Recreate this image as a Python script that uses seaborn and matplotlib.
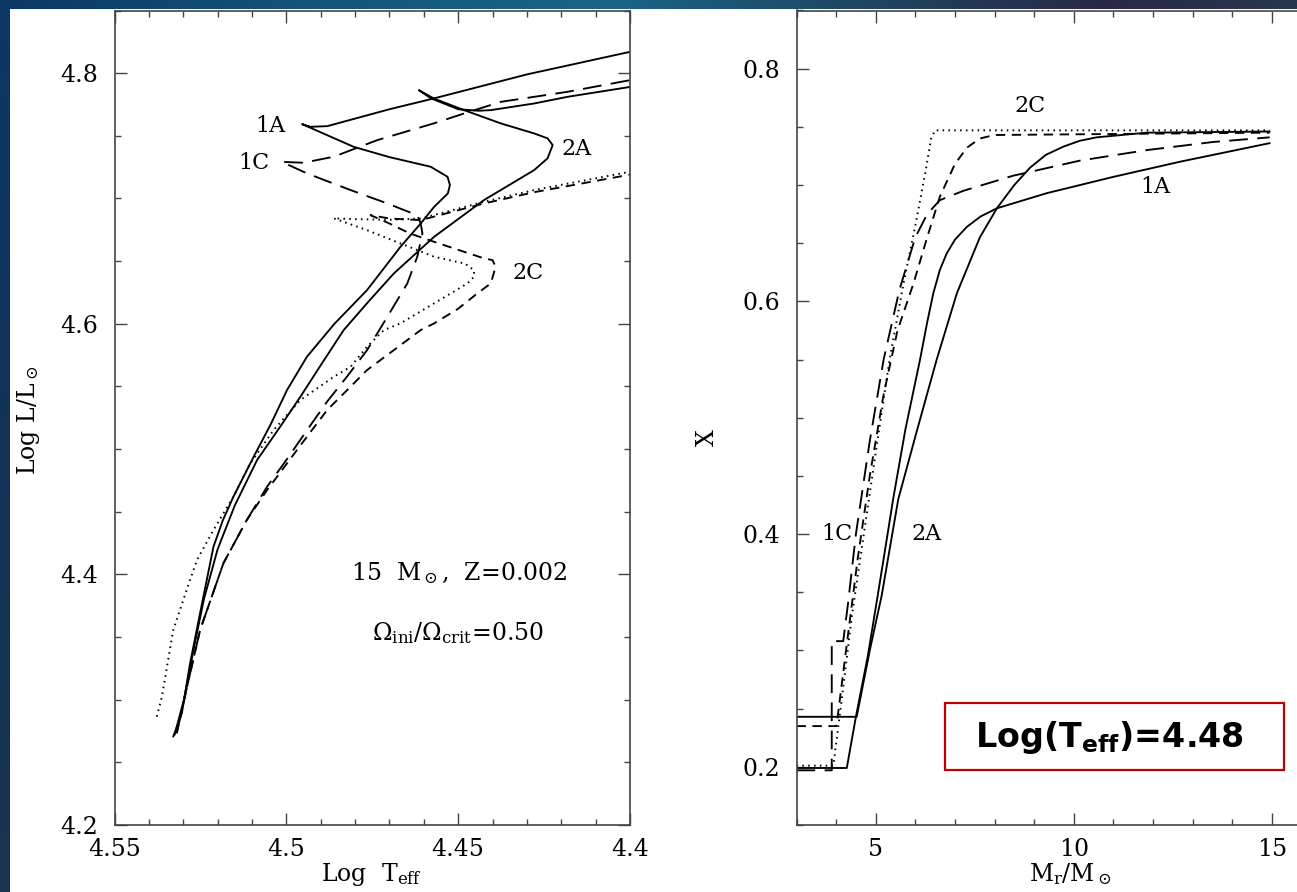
import numpy as np
import pandas as pd
import matplotlib
matplotlib.use("Agg")
import matplotlib.pyplot as plt
import seaborn as sns
from matplotlib.patches import Rectangle
from matplotlib.ticker import MultipleLocator, FixedLocator

# ---------------- data: left panel (HR diagram) ----------------
T_1A = [4.5329, 4.5304, 4.5280, 4.5251, 4.5212, 4.5185, 4.5154, 4.5095, 4.5045, 4.4998, 4.4940,
        4.4860, 4.4765, 4.4668, 4.4609, 4.4570, 4.4530, 4.4524, 4.4531, 4.4580, 4.4700, 4.4804,
        4.4954, 4.4930, 4.4881, 4.4700, 4.4571, 4.4300, 4.4000]
L_1A = [4.2705, 4.2892, 4.3291, 4.3690, 4.4221, 4.4430, 4.4620, 4.4939, 4.5200, 4.5471, 4.5737,
        4.6000, 4.6269, 4.6614, 4.6800, 4.6933, 4.7040, 4.7107, 4.7173, 4.7253, 4.7330, 4.7412,
        4.7593, 4.7572, 4.7577, 4.7712, 4.7798, 4.7990, 4.8170]

T_2A = [4.5325, 4.5298, 4.5270, 4.5240, 4.5200, 4.5150, 4.5085, 4.5020, 4.4959, 4.4895, 4.4833,
        4.4760, 4.4687, 4.4570, 4.4425, 4.4279, 4.4240, 4.4225, 4.4240, 4.4279, 4.4376, 4.4483,
        4.4571, 4.4614, 4.4580, 4.4500, 4.4440, 4.4405, 4.4279, 4.4182, 4.4000]
L_2A = [4.2720, 4.3000, 4.3400, 4.3800, 4.4200, 4.4550, 4.4913, 4.5170, 4.5418, 4.5690, 4.5950,
        4.6180, 4.6402, 4.6694, 4.6987, 4.7226, 4.7320, 4.7426, 4.7480, 4.7519, 4.7599, 4.7705,
        4.7798, 4.7864, 4.7800, 4.7712, 4.7700, 4.7705, 4.7758, 4.7811, 4.7890]

T_1C = [4.5319, 4.5285, 4.5251, 4.5183, 4.5115, 4.5056, 4.4998, 4.4940, 4.4881, 4.4823, 4.4765,
        4.4706, 4.4648, 4.4619, 4.4604, 4.4609, 4.4619, 4.4706, 4.4813, 4.4940, 4.5013, 4.4950,
        4.4862, 4.4736, 4.4571, 4.4483, 4.4376, 4.4182, 4.4000]
L_1C = [4.2732, 4.3150, 4.3556, 4.4089, 4.4434, 4.4700, 4.4920, 4.5150, 4.5380, 4.5580, 4.5790,
        4.6056, 4.6322, 4.6535, 4.6721, 4.6800, 4.6866, 4.6960, 4.7067, 4.7200, 4.7292, 4.7285,
        4.7333, 4.7465, 4.7599, 4.7678, 4.7771, 4.7851, 4.7944]

T_2C = [4.5319, 4.5285, 4.5251, 4.5183, 4.5115, 4.5056, 4.4998, 4.4940, 4.4881, 4.4823, 4.4765,
        4.4687, 4.4609, 4.4570, 4.4500, 4.4444, 4.4405, 4.4391, 4.4400, 4.4425, 4.4512, 4.4570,
        4.4640, 4.4700, 4.4755, 4.4700, 4.4609, 4.4425, 4.4279, 4.4000]
L_2C = [4.2732, 4.3150, 4.3556, 4.4089, 4.4434, 4.4673, 4.4886, 4.5099, 4.5312, 4.5471, 4.5631,
        4.5790, 4.5950, 4.6003, 4.6120, 4.6243, 4.6322, 4.6455, 4.6508, 4.6522, 4.6601, 4.6654,
        4.6720, 4.6800, 4.6867, 4.6840, 4.6827, 4.6960, 4.7050, 4.7190]

T_DOT = [4.5377, 4.5362, 4.5345, 4.5329, 4.5290, 4.5260, 4.5212, 4.5154, 4.5105, 4.5037, 4.4959,
         4.4862, 4.4813, 4.4765, 4.4716, 4.4668, 4.4570, 4.4473, 4.4454, 4.4454, 4.4480, 4.4570,
         4.4668, 4.4765, 4.4862, 4.4800, 4.4700, 4.4609, 4.4425, 4.4279, 4.4000]
L_DOT = [4.2865, 4.3024, 4.3300, 4.3556, 4.3876, 4.4115, 4.4354, 4.4620, 4.4886, 4.5152, 4.5392,
         4.5577, 4.5657, 4.5817, 4.5950, 4.6003, 4.6163, 4.6322, 4.6375, 4.6428, 4.6480, 4.6535,
         4.6641, 4.6747, 4.6841, 4.6835, 4.6830, 4.6840, 4.6973, 4.7067, 4.7213]

# ---------------- data: right panel (X vs Mr) ----------------
M_1A = [3.0, 4.27, 4.50, 4.80, 5.05, 5.30, 5.44, 5.75, 6.12, 6.30, 6.455, 6.62, 6.79, 7.00, 7.30,
        7.65, 8.06, 9.32, 11.0, 12.68, 14.95]
X_1A = [0.199, 0.199, 0.243, 0.295, 0.347, 0.400, 0.430, 0.490, 0.550, 0.582, 0.607, 0.627, 0.641,
        0.653, 0.664, 0.673, 0.680, 0.693, 0.707, 0.720, 0.736]

M_2A = [3.0, 4.52, 4.85, 5.15, 5.57, 6.05, 6.54, 7.05, 7.63, 8.06, 8.50, 8.90, 9.30, 9.74, 10.15,
        10.58, 11.84, 14.95]
X_2A = [0.243, 0.243, 0.300, 0.347, 0.430, 0.490, 0.550, 0.607, 0.655, 0.680, 0.700, 0.715, 0.726,
        0.733, 0.738, 0.741, 0.745, 0.746]

M_1C = [3.0, 3.89, 3.89, 4.18, 4.30, 4.50, 4.85, 5.20, 5.60, 6.00, 6.30, 6.62, 7.21, 8.47, 10.16,
        11.84, 13.52, 14.95]
X_1C = [0.197, 0.197, 0.308, 0.308, 0.340, 0.400, 0.480, 0.550, 0.610, 0.655, 0.675, 0.687, 0.695,
        0.708, 0.721, 0.730, 0.737, 0.741]

M_2C = [3.0, 4.01, 4.25, 4.55, 4.85, 5.20, 5.55, 5.95, 6.30, 6.62, 7.00, 7.30, 7.63, 8.00, 14.95]
X_2C = [0.235, 0.235, 0.300, 0.380, 0.450, 0.520, 0.575, 0.615, 0.655, 0.690, 0.718, 0.732, 0.740,
        0.743, 0.745]

M_DOT = [3.0, 3.93, 4.15, 4.40, 4.70, 5.00, 5.35, 5.70, 6.00, 6.25, 6.40, 6.50, 14.95]
X_DOT = [0.201, 0.201, 0.260, 0.330, 0.400, 0.470, 0.550, 0.615, 0.665, 0.710, 0.740, 0.747, 0.747]

# ticks
L_xticks = [4.55, 4.5, 4.45, 4.4]
L_xticklabels = ["4.55", "4.5", "4.45", "4.4"]
L_yticks = [4.2, 4.4, 4.6, 4.8]
L_yticklabels = ["4.2", "4.4", "4.6", "4.8"]
R_xticks = [5, 10, 15]
R_xticklabels = ["5", "10", "15"]
R_yticks = [0.2, 0.4, 0.6, 0.8]
R_yticklabels = ["0.2", "0.4", "0.6", "0.8"]

# ---------------- style ----------------
sns.set_theme(style="ticks")
plt.rcParams['font.family'] = ['DejaVu Serif']
plt.rcParams['mathtext.fontset'] = 'dejavuserif'
plt.rcParams['text.color'] = 'black'
plt.rcParams['axes.labelcolor'] = 'black'
plt.rcParams['xtick.labelcolor'] = 'black'
plt.rcParams['ytick.labelcolor'] = 'black'

W, H = 1297, 892
fig = plt.figure(figsize=(W / 100, H / 100), dpi=100)

# background gradient + white sheet
bg = fig.add_axes([0, 0, 1, 1], zorder=-10)
xs = np.linspace(0, 1, W)
ys = np.linspace(0, 1, H)
top_anchor_x = [0.0, 0.25, 0.47, 0.65, 0.85, 1.0]
top_anchor_c = np.array([[12, 55, 100], [20, 85, 125], [26, 100, 135], [30, 72, 100], [40, 40, 70], [40, 55, 75]]) / 255
left_anchor_y = [0.0, 0.5, 1.0]
left_anchor_c = np.array([[12, 55, 100], [25, 45, 75], [40, 48, 62]]) / 255
toprow = np.stack([np.interp(xs, top_anchor_x, top_anchor_c[:, k]) for k in range(3)], axis=-1)
leftcol = np.stack([np.interp(ys, left_anchor_y, left_anchor_c[:, k]) for k in range(3)], axis=-1)
img = 0.5 * (toprow[None, :, :] + leftcol[:, None, :])
img[:12, :, :] = toprow[None, :, :]
bg.imshow(img, extent=[0, W, H, 0], aspect='auto', interpolation='bilinear')
bg.add_patch(Rectangle((10, 9), W, H, facecolor='white', edgecolor='none'))
bg.set_xlim(0, W)
bg.set_ylim(H, 0)
bg.axis('off')

R_XMAX = 16.0
axL = fig.add_axes([114.5 / W, 1 - 825 / H, (630 - 114.5) / W, (825 - 10.5) / H])
axR = fig.add_axes([796.5 / W, 1 - 825 / H, (R_XMAX - 3.0) * 39.6 / W, (825 - 10.5) / H])

lw = 1.35
styles = {
    'solid': '-',
    'long': (0, (10, 5)),
    'short': (0, (5, 3.5)),
    'dot': (0, (0.8, 2.2)),
}

def draw(ax, x, y, ls, width=lw):
    df = pd.DataFrame({'x': x, 'y': y})
    sns.lineplot(data=df, x='x', y='y', sort=False, estimator=None, ax=ax,
                 color='black', linewidth=width, linestyle=ls)

draw(axL, T_1A, L_1A, styles['solid'])
draw(axL, T_2A, L_2A, styles['solid'])
draw(axL, T_1C, L_1C, styles['long'])
draw(axL, T_2C, L_2C, styles['short'])
draw(axL, T_DOT, L_DOT, styles['dot'], 1.4)

draw(axR, M_1A, X_1A, styles['solid'])
draw(axR, M_2A, X_2A, styles['solid'])
draw(axR, M_1C, X_1C, styles['long'])
draw(axR, M_2C, X_2C, styles['short'])
draw(axR, M_DOT, X_DOT, styles['dot'], 1.4)

axL.set_xlim(4.55, 4.4)
axL.set_ylim(4.2, 4.85)
axR.set_xlim(3.0, R_XMAX)
axR.set_ylim(0.15, 0.85)

axL.xaxis.set_major_locator(FixedLocator(L_xticks))
axL.set_xticklabels(L_xticklabels)
axL.xaxis.set_minor_locator(MultipleLocator(0.01))
axL.yaxis.set_major_locator(FixedLocator(L_yticks))
axL.set_yticklabels(L_yticklabels)
axL.yaxis.set_minor_locator(MultipleLocator(0.05))

axR.xaxis.set_major_locator(FixedLocator(R_xticks))
axR.set_xticklabels(R_xticklabels)
axR.xaxis.set_minor_locator(MultipleLocator(1))
axR.yaxis.set_major_locator(FixedLocator(R_yticks))
axR.set_yticklabels(R_yticklabels)
axR.yaxis.set_minor_locator(MultipleLocator(0.05))

for ax in (axL, axR):
    ax.set_xlabel('')
    ax.set_ylabel('')
    ax.set_facecolor('white')
    ax.grid(False)
    for sp in ax.spines.values():
        sp.set_visible(True)
        sp.set_color('#444444')
        sp.set_linewidth(1.2)
    ax.tick_params(which='both', direction='in', top=True, right=True, color='#444444', width=1.0)
    ax.tick_params(which='major', length=8.6)
    ax.tick_params(which='minor', length=4.3)
    ax.tick_params(axis='x', which='major', labelsize=17, pad=9, labelcolor='black')
    ax.tick_params(axis='y', which='major', labelsize=17, pad=12, labelcolor='black')

# labels on left panel
fs_lab = 16
axL.text(4.5046, 4.7581, "1A", ha='center', va='center', fontsize=fs_lab, color='black')
axL.text(4.5095, 4.7286, "1C", ha='center', va='center', fontsize=fs_lab, color='black')
axL.text(4.4157, 4.7394, "2A", ha='center', va='center', fontsize=fs_lab, color='black')
axL.text(4.4298, 4.6405, "2C", ha='center', va='center', fontsize=fs_lab, color='black')
axL.text(4.4497, 4.4011, r"15  M$_\odot$,  Z=0.002", ha='center', va='center', fontsize=17, color='black')
axL.text(4.4500, 4.3530, r"$\Omega_{\rm ini}/\Omega_{\rm crit}$=0.50", ha='center', va='center',
         fontsize=17, color='black')

# labels on right panel
axR.text(8.90, 0.768, "2C", ha='center', va='center', fontsize=fs_lab, color='black')
axR.text(12.05, 0.698, "1A", ha='center', va='center', fontsize=fs_lab, color='black')
axR.text(4.01, 0.400, "1C", ha='center', va='center', fontsize=fs_lab, color='black')
axR.text(6.29, 0.400, "2A", ha='center', va='center', fontsize=fs_lab, color='black')

# axis titles
fig.text(28 / W, 1 - 420 / H, r"Log L/L$_\odot$", rotation=90, ha='center', va='center', fontsize=17, color='black')
fig.text(372 / W, 1 - 875 / H, r"Log  T$_{\rm eff}$", ha='center', va='center', fontsize=17, color='black')
fig.text(707 / W, 1 - 438 / H, "X", rotation=90, ha='center', va='center', fontsize=17, color='black')
fig.text(1070 / W, 1 - 874 / H, r"M$_{\rm r}$/M$_\odot$", ha='center', va='center', fontsize=17, color='black')

# red box annotation
fig.add_artist(Rectangle((945 / W, 1 - 770 / H), 339 / W, 67 / H, transform=fig.transFigure,
                         facecolor='white', edgecolor='#c00000', linewidth=1.6, zorder=5))
fig.text(1110 / W, 1 - 737 / H, r"Log(T$_{\mathbf{eff}}$)=4.48", ha='center', va='center', color='black',
         fontsize=24, fontweight='bold', family='DejaVu Sans', math_fontfamily='dejavusans', zorder=6)

fig.savefig("out.png", dpi=100)
